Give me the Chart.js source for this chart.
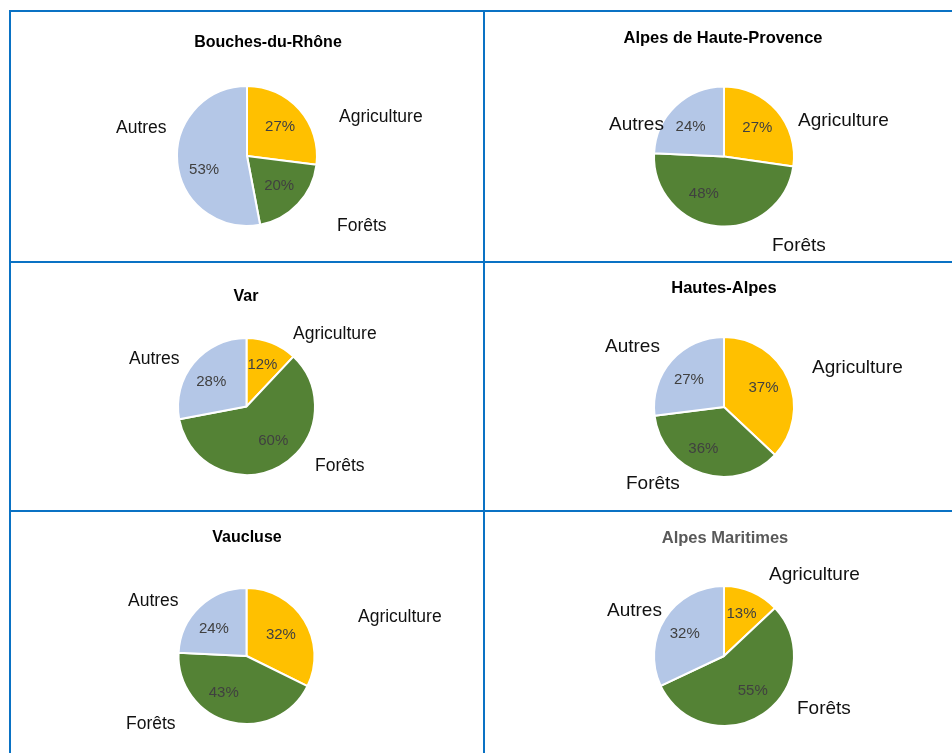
<!DOCTYPE html>
<html lang="fr">
<head>
<meta charset="utf-8">
<title>Occupation des sols - PACA</title>
<script src="https://cdn.jsdelivr.net/npm/chart.js@4"></script>
<style>
    html, body { margin: 0; padding: 0; background: #fff; }
    body { width: 952px; height: 753px; position: relative; overflow: hidden; }
    .cell { position: absolute; box-sizing: border-box; border: 2px solid #0a72c4; }
    canvas.pie { position: absolute; left: 0; top: 0; }
</style>
</head>
<body>
<div class="cell" style="left:9px;top:10px;width:476px;height:253px"></div>
<div class="cell" style="left:483px;top:10px;width:500px;height:253px"></div>
<div class="cell" style="left:9px;top:261px;width:476px;height:251px"></div>
<div class="cell" style="left:483px;top:261px;width:500px;height:251px"></div>
<div class="cell" style="left:9px;top:510px;width:476px;height:300px"></div>
<div class="cell" style="left:483px;top:510px;width:500px;height:300px"></div>

<script>
// Données (%)
const categories = ['Agriculture', 'Forêts', 'Autres'];
const departements = ['Bouches-du-Rhône', 'Alpes de Haute-Provence', 'Var', 'Hautes-Alpes', 'Vaucluse', 'Alpes Maritimes'];
const agriculture = [27, 27, 12, 37, 32, 13];
const forets = [20, 48, 60, 36, 43, 55];
const autres = [53, 24, 28, 27, 24, 32];

const colors = ['#ffc000', '#548235', '#b4c7e7'];
const FONT = '"Liberation Sans", Arial, sans-serif';
const W = 952, H = 753;

// mise en page : centre / rayon du camembert, titre, décalages des étiquettes
const layouts = [
    { cx: 247, cy: 156, r: 70, titleX: 268, titleY: 43, titleSize: 16, labelSize: 17.5, titleColor: '#000',
      labels: [[92, -39], [90, 70], [-131, -28]], nudge: [[0, 0], [0, 0], [1, 10]] },
    { cx: 724, cy: 156.5, r: 70, titleX: 723, titleY: 38, titleSize: 16.5, labelSize: 19, titleColor: '#000',
      labels: [[74, -35.5], [48, 89.5], [-115, -31.5]], nudge: [[0, 0], [-16, -7], [-3, 2]] },
    { cx: 246.5, cy: 406.5, r: 68.5, titleX: 246, titleY: 297, titleSize: 16, labelSize: 17.5, titleColor: '#000',
      labels: [[46.5, -72.5], [68.5, 59.5], [-117.5, -47.5]], nudge: [[0, -2], [6, -3], [-2, 3]] },
    { cx: 724, cy: 407, r: 70, titleX: 724, titleY: 288, titleSize: 16.5, labelSize: 19, titleColor: '#000',
      labels: [[88, -39], [-98, 77], [-119, -60]], nudge: [[-1, -2], [-7, 0], [-2, 2]] },
    { cx: 246.5, cy: 656, r: 68, titleX: 247, titleY: 538, titleSize: 16, labelSize: 17.5, titleColor: '#000',
      labels: [[111.5, -39], [-120.5, 68], [-118.5, -55]], nudge: [[-2, 1], [-12, -5], [-3, 4]] },
    { cx: 724, cy: 656, r: 70, titleX: 725, titleY: 538, titleSize: 16.5, labelSize: 19, titleColor: '#595959',
      labels: [[45, -81], [73, 53], [-117, -45]], nudge: [[0, -2], [4, -2], [-2, 1]] }
];

const pieLabels = {
    id: 'pieLabels',
    afterDatasetsDraw(chart, args, opts) {
        const ctx = chart.ctx;
        const lay = opts.layout;
        const values = chart.data.datasets[0].data;
        ctx.save();
        ctx.textBaseline = 'middle';

        ctx.font = `bold ${lay.titleSize}px ${FONT}`;
        ctx.fillStyle = lay.titleColor;
        ctx.textAlign = 'center';
        ctx.fillText(opts.title, lay.titleX, lay.titleY);

        chart.getDatasetMeta(0).data.forEach((arc, i) => {
            const p = arc.getProps(['x', 'y', 'startAngle', 'endAngle', 'outerRadius'], true);
            const mid = (p.startAngle + p.endAngle) / 2;
            const d = p.outerRadius * 0.63;
            ctx.font = `15px ${FONT}`;
            ctx.fillStyle = '#404040';
            ctx.textAlign = 'center';
            ctx.fillText(values[i] + '%', p.x + Math.cos(mid) * d + lay.nudge[i][0], p.y + Math.sin(mid) * d + lay.nudge[i][1]);

            ctx.font = `${lay.labelSize}px ${FONT}`;
            ctx.fillStyle = '#111';
            ctx.textAlign = 'left';
            ctx.fillText(chart.data.labels[i], p.x + lay.labels[i][0], p.y + lay.labels[i][1]);
        });
        ctx.restore();
    }
};

departements.forEach((dep, k) => {
    const lay = layouts[k];
    const canvas = document.createElement('canvas');
    canvas.className = 'pie';
    canvas.width = W;
    canvas.height = H;
    document.body.appendChild(canvas);

    const side = 2 * lay.r + 2;
    new Chart(canvas, {
        type: 'pie',
        data: {
            labels: categories,
            datasets: [{
                data: [agriculture[k], forets[k], autres[k]],
                backgroundColor: colors,
                borderColor: '#ffffff',
                borderWidth: 2
            }]
        },
        options: {
            responsive: false,
            animation: false,
            events: [],
            layout: {
                padding: {
                    left: lay.cx - side / 2,
                    top: lay.cy - side / 2,
                    right: W - (lay.cx + side / 2),
                    bottom: H - (lay.cy + side / 2)
                }
            },
            plugins: {
                legend: { display: false },
                tooltip: { enabled: false },
                pieLabels: { layout: lay, title: dep }
            }
        },
        plugins: [pieLabels]
    });
});
</script>
</body>
</html>
